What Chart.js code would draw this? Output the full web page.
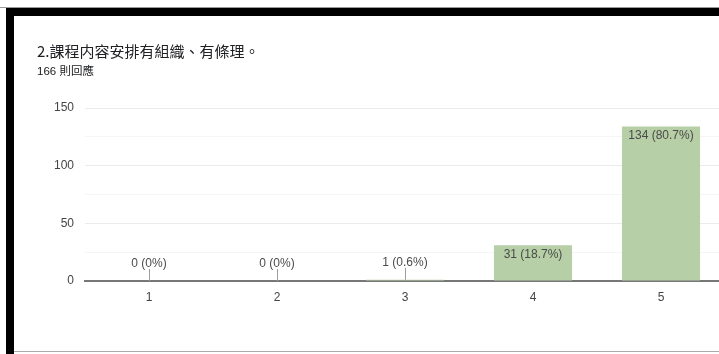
<!DOCTYPE html>
<html>
<head>
<meta charset="utf-8">
<script src="https://cdn.jsdelivr.net/npm/chart.js@4/dist/chart.umd.min.js"></script>
<style>
  html, body { margin: 0; padding: 0; background: #fff; overflow: hidden; }
  body { width: 719px; height: 354px; position: relative; }
  #top-bar { position: absolute; left: 6px; top: 8px; width: 713px; height: 8px; background: #000; }
  #top-line { position: absolute; left: 0; top: 7px; width: 719px; height: 1px; background: #999; }
  #left-bar { position: absolute; left: 6px; top: 8px; width: 8px; height: 346px; background: #000; }
  #bottom-line { position: absolute; left: 14px; top: 351px; width: 705px; height: 1px; background: #aaa; }
  #title { position: absolute; left: 37px; top: 40px; font: 15px "Noto Sans CJK TC", "Liberation Sans", sans-serif; color: #202124; white-space: nowrap; }
  #subtitle { position: absolute; left: 37px; top: 62px; font: 11.5px "Liberation Sans", "Noto Sans CJK TC", sans-serif; color: #202124; white-space: nowrap; }
  #wrap { position: absolute; left: 0; top: 0; width: 760px; height: 354px; }
</style>
</head>
<body>
<div id="wrap"><canvas id="chart"></canvas></div>
<div id="top-line"></div>
<div id="top-bar"></div>
<div id="left-bar"></div>
<div id="bottom-line"></div>
<div id="title">2.課程内容安排有組織、有條理。</div>
<div id="subtitle">166 則回應</div>
<script>
const categories = ['1', '2', '3', '4', '5'];
const counts = [0, 0, 1, 31, 134];
const percentLabels = ['0%', '0%', '0.6%', '18.7%', '80.7%'];
const yTicks = [0, 50, 100, 150];

const barLabels = {
  id: 'barLabels',
  afterDatasetsDraw(chart) {
    const ctx = chart.ctx;
    const meta = chart.getDatasetMeta(0);
    ctx.save();
    ctx.font = '12px "Liberation Sans", Arial, sans-serif';
    ctx.textAlign = 'center';
    ctx.textBaseline = 'middle';
    meta.data.forEach((bar, i) => {
      const text = counts[i] + ' (' + percentLabels[i] + ')';
      const h = bar.base - bar.y;
      if (h > 20) {
        ctx.fillStyle = '#4a4a4a';
        ctx.fillText(text, bar.x, bar.y + 9);
      } else {
        ctx.strokeStyle = '#9e9e9e';
        ctx.lineWidth = 1;
        ctx.beginPath();
        ctx.moveTo(Math.round(bar.x) + 0.5, bar.y - 12);
        ctx.lineTo(Math.round(bar.x) + 0.5, bar.y);
        ctx.stroke();
        ctx.fillStyle = '#4a4a4a';
        ctx.fillText(text, bar.x, bar.y - 17);
      }
    });
    ctx.restore();
  }
};

new Chart(document.getElementById('chart'), {
  type: 'bar',
  data: {
    labels: categories,
    datasets: [{
      data: counts,
      backgroundColor: '#b7cfa6',
      borderWidth: 0,
      categoryPercentage: 1,
      barPercentage: 0.61
    }]
  },
  options: {
    responsive: true,
    maintainAspectRatio: false,
    animation: false,
    layout: { padding: { left: 45, right: 35, top: 108, bottom: 0 } },
    plugins: { legend: { display: false }, tooltip: { enabled: false } },
    scales: {
      x: {
        grid: { display: false, drawTicks: false },
        border: { display: true, color: '#777777', width: 2 },
        ticks: { color: '#444', padding: 9, font: { family: '"Liberation Sans", Arial, sans-serif', size: 12 } },
        afterFit(scale) { scale.height = 73; }
      },
      y: {
        min: 0,
        max: 150,
        border: { display: false },
        grid: {
          drawTicks: false,
          color: ctx => ctx.tick.value === 0 ? 'rgba(0,0,0,0)' : (ctx.tick.value % 50 === 0 ? '#ebebeb' : '#f5f5f5'),
          lineWidth: 1
        },
        ticks: {
          stepSize: 25,
          padding: 11,
          color: '#444',
          font: { family: '"Liberation Sans", Arial, sans-serif', size: 12 },
          callback: v => yTicks.includes(v) ? String(v) : ''
        },
        afterFit(scale) { scale.width = 40; }
      }
    }
  },
  plugins: [barLabels]
});
</script>
</body>
</html>
